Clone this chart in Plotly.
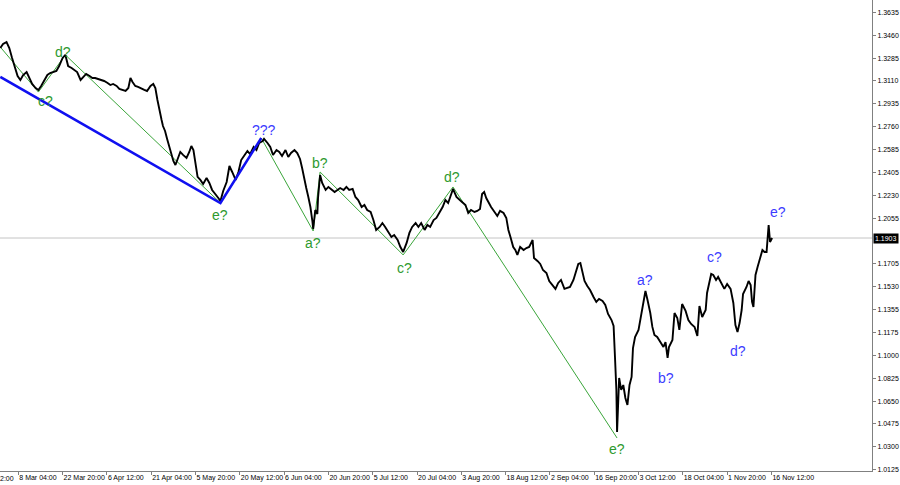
import plotly.graph_objects as go

# ---------------- data ----------------
bar_index = [0, 4, 9, 13, 17, 22, 25, 29, 33, 38, 42, 46, 51, 55, 59, 64, 68, 72, 77, 81,
             85, 90, 94, 98, 103, 107, 111, 116, 120, 124, 129, 133, 137, 142, 146, 150, 155, 159, 163, 168,
             172, 176, 181, 185, 188, 191, 195, 199, 204, 208, 212, 217, 221, 224, 227, 230, 233, 235, 238, 241,
             244, 247, 250, 253, 256, 260, 264, 269, 273, 276, 279, 282, 285, 289, 293, 298, 302, 306, 311, 315,
             318, 322, 327, 331, 335, 340, 344, 348, 353, 357, 361, 366, 370, 374, 379, 381, 386, 390, 394, 399,
             403, 407, 412, 416, 420, 425, 429, 433, 436, 439, 442, 445, 448, 451, 452, 455, 458, 459, 462, 465,
             470, 474, 478, 483, 487, 491, 496, 500, 504, 509, 513, 517, 522, 526, 530, 535, 539, 543, 548, 552,
             556, 561, 565, 569, 574, 578, 582, 587, 591, 595, 600, 604, 608, 613, 617, 621, 626, 630, 634, 639,
             643, 647, 652, 654, 659, 663, 667, 672, 676, 680, 685, 689, 693, 696, 699, 702, 705, 709, 714, 718,
             722, 727, 731, 734, 737, 741, 744, 747, 751, 756, 760, 764, 769, 771, 776, 780, 784, 789, 793, 797,
             802, 806, 810, 815, 819, 823, 828, 832, 835, 838, 841, 844, 848, 852, 857, 861, 865, 870, 874, 878,
             883, 886, 888, 890, 891, 894, 897, 900, 903, 906, 909, 912, 914, 917, 922, 926, 930, 932, 935, 939,
             942, 945, 949, 954, 958, 961, 964, 966, 971, 974, 978, 981, 985, 990, 994, 998, 1003, 1007, 1010, 1014,
             1019, 1021, 1024, 1027, 1030, 1034, 1037, 1042, 1046, 1050, 1055, 1059, 1062, 1065, 1068, 1071, 1073, 1078, 1081, 1084,
             1086, 1088, 1091, 1094, 1098, 1101, 1104, 1107, 1110, 1112, 1115]

close = [1.3362, 1.3393, 1.3408, 1.3362, 1.3286, 1.3209, 1.3147, 1.3117, 1.3155, 1.3178, 1.3132, 1.3086, 1.3055, 1.3040, 1.3071, 1.3117, 1.3155, 1.3170, 1.3178, 1.3186,
         1.3224, 1.3286, 1.3309, 1.3224, 1.3209, 1.3193, 1.3178, 1.3117, 1.3140, 1.3163, 1.3147, 1.3132, 1.3132, 1.3124, 1.3117, 1.3109, 1.3094, 1.3078, 1.3086, 1.3071,
         1.3048, 1.3040, 1.3032, 1.3055, 1.3132, 1.3101, 1.3071, 1.3063, 1.3048, 1.3040, 1.3032, 1.3071, 1.3086, 1.3055, 1.2963, 1.2871, 1.2809, 1.2763, 1.2725, 1.2664,
         1.2610, 1.2548, 1.2495, 1.2464, 1.2510, 1.2564, 1.2541, 1.2518, 1.2564, 1.2610, 1.2579, 1.2456, 1.2372, 1.2349, 1.2318, 1.2364, 1.2326, 1.2272, 1.2241, 1.2210,
         1.2187, 1.2264, 1.2333, 1.2456, 1.2410, 1.2349, 1.2410, 1.2502, 1.2541, 1.2571, 1.2548, 1.2602, 1.2579, 1.2633, 1.2648, 1.2664, 1.2633, 1.2602, 1.2541, 1.2579,
         1.2564, 1.2533, 1.2579, 1.2525, 1.2556, 1.2579, 1.2556, 1.2510, 1.2441, 1.2349, 1.2287, 1.2218, 1.2141, 1.2026, 1.1972, 1.2118, 1.2087, 1.2210, 1.2387, 1.2326,
         1.2272, 1.2295, 1.2280, 1.2256, 1.2272, 1.2287, 1.2272, 1.2295, 1.2272, 1.2280, 1.2218, 1.2195, 1.2141, 1.2157, 1.2118, 1.2103, 1.2041, 1.1965, 1.1988, 1.2018,
         1.1988, 1.1942, 1.1911, 1.1926, 1.1888, 1.1834, 1.1796, 1.1865, 1.1942, 1.1988, 1.2018, 1.1988, 1.2018, 1.1965, 1.2003, 1.1988, 1.2041, 1.2057, 1.2095, 1.2141,
         1.2195, 1.2172, 1.2249, 1.2280, 1.2218, 1.2195, 1.2180, 1.2157, 1.2095, 1.2118, 1.2103, 1.2111, 1.2126, 1.2241, 1.2256, 1.2210, 1.2180, 1.2141, 1.2103, 1.2072,
         1.2111, 1.2095, 1.2057, 1.1965, 1.1911, 1.1834, 1.1811, 1.1773, 1.1834, 1.1811, 1.1826, 1.1834, 1.1888, 1.1750, 1.1727, 1.1704, 1.1657, 1.1634, 1.1573, 1.1542,
         1.1512, 1.1558, 1.1581, 1.1512, 1.1519, 1.1527, 1.1581, 1.1657, 1.1704, 1.1711, 1.1634, 1.1573, 1.1535, 1.1504, 1.1450, 1.1412, 1.1435, 1.1419, 1.1389, 1.1320,
         1.1273, 1.1227, 1.0989, 1.0736, 1.0413, 1.0828, 1.0736, 1.0774, 1.0674, 1.0621, 1.0774, 1.0836, 1.1058, 1.1143, 1.1197, 1.1327, 1.1450, 1.1496, 1.1427, 1.1327,
         1.1220, 1.1158, 1.1143, 1.1097, 1.1066, 1.1104, 1.0982, 1.1066, 1.1120, 1.1327, 1.1289, 1.1197, 1.1396, 1.1343, 1.1273, 1.1243, 1.1220, 1.1151, 1.1381, 1.1296,
         1.1350, 1.1481, 1.1558, 1.1627, 1.1619, 1.1581, 1.1604, 1.1550, 1.1512, 1.1550, 1.1512, 1.1404, 1.1235, 1.1181, 1.1250, 1.1350, 1.1473, 1.1527, 1.1573, 1.1542,
         1.1412, 1.1373, 1.1619, 1.1680, 1.1757, 1.1811, 1.1796, 1.1796, 1.2003, 1.1872, 1.1903]

current_price = 1.1903

x_tick_bars = [26, 90, 154, 218, 282, 346, 410, 474, 538, 602, 666, 730, 794, 858, 922, 986, 1050, 1114]
x_tick_labels = ["8 Mar 04:00", "22 Mar 20:00", "6 Apr 12:00", "21 Apr 04:00", "5 May 20:00",
                 "20 May 12:00", "6 Jun 04:00", "20 Jun 20:00", "5 Jul 12:00", "20 Jul 04:00",
                 "3 Aug 20:00", "18 Aug 12:00", "2 Sep 04:00", "16 Sep 20:00", "3 Oct 12:00",
                 "18 Oct 04:00", "1 Nov 20:00", "16 Nov 12:00"]
edge_label = "2:00"   # tail of the date label cut by the left edge

y_tick_vals = [1.3635, 1.3460, 1.3285, 1.3110, 1.2935, 1.2760, 1.2585, 1.2405, 1.2230, 1.2055,
               1.1705, 1.1530, 1.1355, 1.1175, 1.1000, 1.0825, 1.0650, 1.0475, 1.0300, 1.0125]
y_tick_labels = ["%.4f" % v for v in y_tick_vals]

# wave markup
green_wave1_bars = [0, 55, 94, 318]
green_wave1_prices = [1.3370, 1.3024, 1.3309, 1.2172]
green_wave2_bars = [377, 452, 462, 582, 654, 891]
green_wave2_prices = [1.2671, 1.1957, 1.2410, 1.1773, 1.2295, 1.0367]
blue_wave_bars = [0, 318, 377]
blue_wave_prices = [1.3140, 1.2172, 1.2671]

label_texts = ["c?", "d?", "e?", "???", "a?", "b?", "c?", "d?", "e?", "a?", "b?", "c?", "d?", "e?"]
label_bars = [65, 91, 318, 381, 452, 462, 584, 653, 891, 932, 961, 1032, 1065, 1123]
label_prices = [1.2955, 1.3332, 1.2080, 1.2733, 1.1865, 1.2479, 1.1673, 1.2372, 1.0283,
                1.1581, 1.0828, 1.1757, 1.1035, 1.2103]
label_kind = ["g", "g", "g", "b", "g", "g", "g", "g", "g", "b", "b", "b", "b", "b"]

# ---------------- styling ----------------
GREEN_LINE = "#3aa53a"
GREEN_TEXT = "#2e9a2e"
BLUE_LINE = "#1010f0"
BLUE_TEXT = "#3c3cff"
AXIS_GRAY = "#808080"
FONT = "Liberation Sans"

x_range = [-0.44, 1259.3]
y_range = [1.01135, 1.3731]

fig = go.Figure()

fig.add_hline(y=current_price, line_color="#c4c4c4", line_width=1, layer="below")

fig.add_trace(go.Scatter(x=green_wave1_bars, y=green_wave1_prices, mode="lines",
                         line=dict(color=GREEN_LINE, width=1), hoverinfo="skip"))
fig.add_trace(go.Scatter(x=green_wave2_bars, y=green_wave2_prices, mode="lines",
                         line=dict(color=GREEN_LINE, width=1), hoverinfo="skip"))
fig.add_trace(go.Scatter(x=bar_index, y=close, mode="lines",
                         line=dict(color="black", width=1.9), hoverinfo="skip"))
fig.add_trace(go.Scatter(x=blue_wave_bars, y=blue_wave_prices, mode="lines",
                         line=dict(color=BLUE_LINE, width=2.5), hoverinfo="skip"))

for t, b, p, k in zip(label_texts, label_bars, label_prices, label_kind):
    fig.add_annotation(x=b, y=p, text=t, showarrow=False,
                       font=dict(family=FONT, size=14,
                                 color=GREEN_TEXT if k == "g" else BLUE_TEXT),
                       xanchor="center", yanchor="middle")

# price box on the right axis
fig.add_annotation(xref="paper", x=1, y=current_price, text="%.4f" % current_price,
                   showarrow=False, xanchor="left", yanchor="middle", xshift=1,
                   font=dict(family=FONT, size=7, color="white"),
                   bgcolor="black", borderpad=1)

# date tail visible at the left edge
fig.add_annotation(xref="paper", yref="paper", x=0, y=0,
                   text=edge_label, showarrow=False, xanchor="left", yanchor="top",
                   xshift=-2, yshift=-2, font=dict(family=FONT, size=7, color="black"))

fig.update_xaxes(range=x_range, tickvals=x_tick_bars, ticktext=x_tick_labels, tickangle=0,
                 ticks="outside", ticklen=3, tickcolor=AXIS_GRAY, ticklabelposition="outside right",
                 showline=True, linecolor=AXIS_GRAY, linewidth=1, showgrid=False, zeroline=False,
                 automargin=False,
                 tickfont=dict(family=FONT, size=7, color="black"), fixedrange=True)
fig.update_yaxes(range=y_range, side="right", tickvals=y_tick_vals, ticktext=y_tick_labels,
                 ticks="outside", ticklen=3, tickcolor=AXIS_GRAY,
                 showline=True, linecolor=AXIS_GRAY, linewidth=1, showgrid=False, zeroline=False,
                 automargin=False,
                 tickfont=dict(family=FONT, size=7, color="black"), fixedrange=True)

fig.update_layout(width=900, height=485, margin=dict(l=0, r=28, t=0, b=14, autoexpand=False),
                  plot_bgcolor="white", paper_bgcolor="white", showlegend=False)

fig.write_html("out.html", config={"displayModeBar": False},
               post_script="document.body.style.margin='0';")
